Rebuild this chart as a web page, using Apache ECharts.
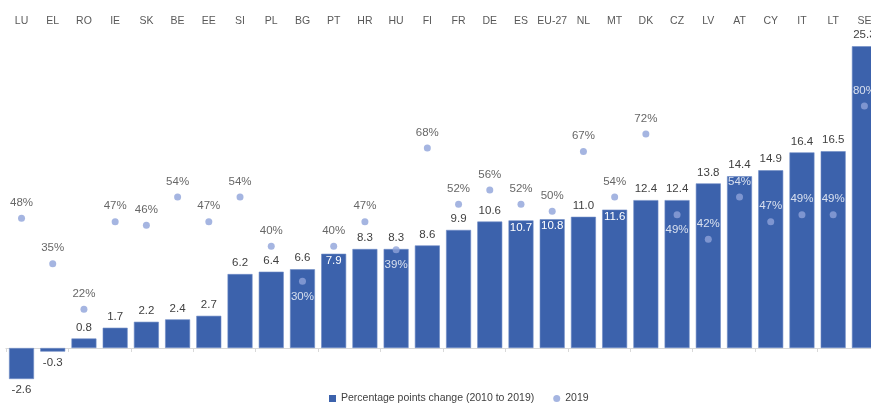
<!DOCTYPE html>
<html>
<head>
<meta charset="utf-8">
<script src="https://cdn.jsdelivr.net/npm/echarts@6/dist/echarts.min.js"></script>
<style>
  html, body { margin: 0; padding: 0; background: #fff; overflow: hidden; }
  /* the plot runs slightly past the right edge of the window, clipping SE */
  #chart { width: 880px; height: 403px; }
</style>
</head>
<body>
<div id="chart"></div>
<script>
// Countries, ordered by change
const categories = ['LU', 'EL', 'RO', 'IE', 'SK', 'BE', 'EE', 'SI', 'PL', 'BG', 'PT', 'HR', 'HU', 'FI',
  'FR', 'DE', 'ES', 'EU-27', 'NL', 'MT', 'DK', 'CZ', 'LV', 'AT', 'CY', 'IT', 'LT', 'SE'];

// Percentage points change (2010 to 2019)
const changeValues = [-2.6, -0.3, 0.8, 1.7, 2.2, 2.4, 2.7, 6.2, 6.4, 6.6, 7.9, 8.3, 8.3, 8.6,
  9.9, 10.6, 10.7, 10.8, 11.0, 11.6, 12.4, 12.4, 13.8, 14.4, 14.9, 16.4, 16.5, 25.3];

// Share in 2019 (%)
const values2019 = [48, 35, 22, 47, 46, 54, 47, 54, 40, 30, 40, 47, 39, 68,
  52, 56, 52, 50, 67, 54, 72, 49, 42, 54, 47, 49, 49, 80];

const seriesNames = ['Percentage points change (2010 to 2019)', '2019'];

// Label placement tweaks where bar labels and dots would collide
const barLabelInside = ['PT', 'ES', 'EU-27', 'MT'];
const dotInsideBelow = ['BG', 'HU', 'CZ'];
const dotInsideAbove = ['LV', 'AT', 'CY', 'IT', 'LT', 'SE'];

const FONT = '"Liberation Sans Narrow", "Liberation Sans", sans-serif';
const BAR_COLOR = '#3C62AC';
const DOT_COLOR = '#8EA3DA';
const TEXT = '#404040';

const barData = changeValues.map((v, i) => {
  const c = categories[i];
  let label;
  if (barLabelInside.includes(c)) {
    label = { position: 'insideTop', distance: 1, color: '#ffffff' };
  } else if (v < 0) {
    label = { position: 'bottom', distance: 5, color: TEXT };
  } else {
    label = { position: 'top', distance: 5, color: TEXT };
  }
  return { value: v, label: label };
});

const dotData = values2019.map((v, i) => {
  const c = categories[i];
  let label;
  if (dotInsideBelow.includes(c)) {
    label = { position: 'bottom', distance: 6, color: '#ffffff' };
  } else if (dotInsideAbove.includes(c)) {
    label = { position: 'top', distance: 6, color: '#ffffff' };
  } else {
    label = { position: 'top', distance: 6, color: TEXT };
  }
  return { value: v, label: label };
});

const chart = echarts.init(document.getElementById('chart'), null, { renderer: 'canvas' });

chart.setOption({
  animation: false,
  textStyle: { fontFamily: FONT },
  grid: { left: 5.9, right: 0, top: 30, bottom: 13, containLabel: false },
  legend: {
    left: 324,
    top: 388,
    itemGap: 19,
    itemWidth: 7,
    itemHeight: 7,
    textStyle: { color: TEXT, fontSize: 10.5, fontFamily: FONT },
    data: [
      { name: seriesNames[0], icon: 'rect', itemStyle: { color: BAR_COLOR, borderWidth: 0 } },
      { name: seriesNames[1], icon: 'circle', itemStyle: { color: DOT_COLOR } }
    ]
  },
  xAxis: [
    {
      type: 'category',
      data: categories,
      position: 'bottom',
      axisLine: { show: true, onZero: true, lineStyle: { color: '#d9d9d9', width: 1 } },
      axisTick: { show: true, length: 4, lineStyle: { color: '#d9d9d9' } },
      axisLabel: { show: false },
      splitLine: { show: false }
    },
    {
      type: 'category',
      data: categories,
      position: 'top',
      axisLine: { show: false },
      axisTick: { show: false },
      axisLabel: { show: true, color: '#595959', fontSize: 10.5, margin: 3, interval: 0, fontFamily: FONT },
      splitLine: { show: false }
    }
  ],
  yAxis: [
    { type: 'value', min: -3.52, max: 26.66, show: false, splitLine: { show: false } },
    { type: 'value', min: -1.03, max: 101.68, show: false, splitLine: { show: false } }
  ],
  series: [
    {
      name: seriesNames[0],
      type: 'bar',
      xAxisIndex: 0,
      yAxisIndex: 0,
      barWidth: '80%',
      itemStyle: { color: BAR_COLOR, borderColor: '#6f8cc6', borderWidth: 0.6 },
      label: {
        show: true,
        fontSize: 11.5,
        fontFamily: FONT,
        formatter: p => p.value.toFixed(1)
      },
      data: barData,
      z: 2
    },
    {
      name: seriesNames[1],
      type: 'scatter',
      xAxisIndex: 0,
      yAxisIndex: 1,
      symbol: 'circle',
      symbolSize: 7,
      itemStyle: { color: DOT_COLOR },
      label: {
        show: true,
        fontSize: 11.5,
        fontFamily: FONT,
        formatter: p => p.value + '%'
      },
      data: dotData,
      z: 3
    }
  ]
});
</script>
</body>
</html>
